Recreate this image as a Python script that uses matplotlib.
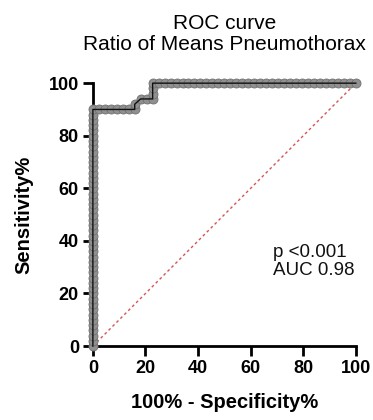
import matplotlib
matplotlib.use("Agg")
import matplotlib.pyplot as plt

plt.rcParams['font.family'] = ['Liberation Sans', 'DejaVu Sans']

# ROC points (100% - specificity, sensitivity)
fpr = [0] * 46 + [2.27, 4.55, 6.82, 9.09, 11.36, 13.64, 15.91, 15.91,
                  18.18, 20.45, 22.73, 22.73, 22.73, 22.73,
                  25.0, 27.27, 29.55, 31.82, 34.09, 36.36, 38.64, 40.91,
                  43.18, 45.45, 47.73, 50.0, 52.27, 54.55, 56.82, 59.09,
                  61.36, 63.64, 65.91, 68.18, 70.45, 72.73, 75.0, 77.27,
                  79.55, 81.82, 84.09, 86.36, 88.64, 90.91, 93.18, 95.45,
                  97.73, 100.0]
tpr = [0, 2, 4, 6, 8, 10, 12, 14, 16, 18, 20, 22, 24, 26, 28, 30, 32, 34,
       36, 38, 40, 42, 44, 46, 48, 50, 52, 54, 56, 58, 60, 62, 64, 66, 68,
       70, 72, 74, 76, 78, 80, 82, 84, 86, 88, 90,
       90, 90, 90, 90, 90, 90, 90, 92,
       94, 94, 94, 96, 98, 100] + [100] * 34

fig = plt.figure(figsize=(3.73, 4.2), dpi=100)
ax = fig.add_axes([0.249, 0.176, 0.705, 0.626])

ax.plot([0, 100], [0, 100], linestyle=(0, (2, 2)), color='#d9534f', lw=1.0)
# grey dots, black line drawn over them
ax.plot(fpr, tpr, linestyle='none', marker='o', markersize=6.5,
        markerfacecolor='#909090', markeredgecolor='#707070',
        markeredgewidth=0.6, clip_on=False, zorder=3)
ax.plot(fpr, tpr, color='#111111', lw=1.0, clip_on=False, zorder=4)

ax.set_xlim(0, 100)
ax.set_ylim(0, 100)
ax.set_xticks([0, 20, 40, 60, 80, 100])
ax.set_yticks([0, 20, 40, 60, 80, 100])
for s in ['top', 'right']:
    ax.spines[s].set_visible(False)
for s in ['left', 'bottom']:
    ax.spines[s].set_linewidth(2)
ax.tick_params(direction='out', length=7, width=2, pad=3, labelsize=13)
for lab in ax.get_xticklabels() + ax.get_yticklabels():
    lab.set_fontweight('bold')

ax.set_xlabel('100% - Specificity%', fontsize=14.5, fontweight='bold')
ax.set_ylabel('Sensitivity%', fontsize=14.5, fontweight='bold')
ax.xaxis.set_label_coords(0.5, -0.18)
ax.yaxis.set_label_coords(-0.225, 0.5)
ax.set_title('ROC curve\nRatio of Means Pneumothorax', fontsize=15,
             pad=24, linespacing=1.1)

ax.text(68.5, 39, 'p <0.001\nAUC 0.98', fontsize=13.5, va='top',
        linespacing=1.15, color='#111111')

fig.savefig('out.png', dpi=100)
